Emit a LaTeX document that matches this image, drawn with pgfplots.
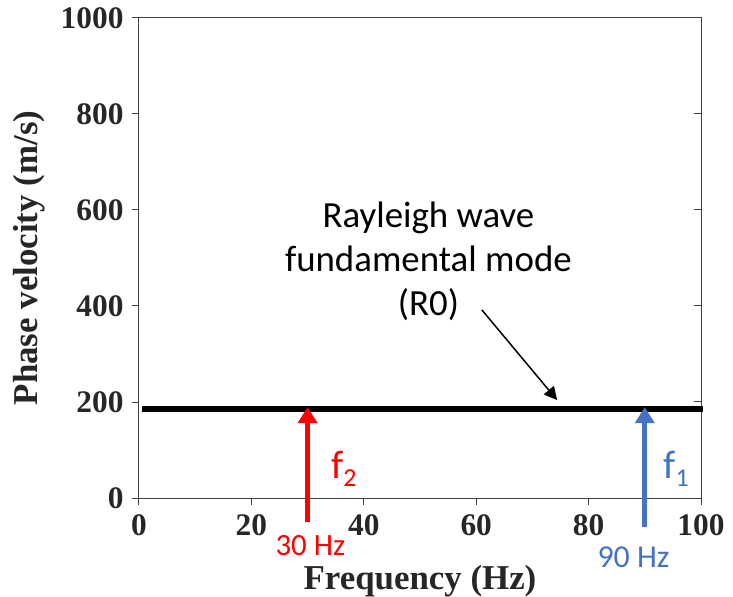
\documentclass[border=0pt]{standalone}
\usepackage{fontspec}
\setmainfont{Liberation Serif}
\newfontfamily\calib{Carlito}
\usepackage{pgfplots}
\pgfplotsset{compat=1.18}
\usetikzlibrary{arrows.meta}
\definecolor{tickgray}{HTML}{262626}
\definecolor{axgray}{HTML}{404040}
\definecolor{myblue}{HTML}{4472C4}
\begin{document}
\begin{tikzpicture}
\path[use as bounding box] (-139bp,-99bp) rectangle (594bp,498bp);
\begin{axis}[
  scale only axis, width=562bp, height=480bp,
  xmin=0, xmax=100, ymin=0, ymax=1000,
  xtick={0,20,...,100}, ytick={0,200,...,1000},
  xtick pos=bottom, ytick pos=left,
  tick align=outside, major tick length=7bp,
  axis line style={axgray, line width=1bp},
  every tick/.style={axgray, line width=1bp},
  /pgf/number format/assume math mode=true,
  /pgf/number format/1000 sep={},
  tick label style={font=\fontsize{31.5}{32}\selectfont\bfseries, text=tickgray},
  yticklabel style={xshift=-5bp},
  xticklabel style={yshift=-6bp},
  xlabel={\fontsize{35}{36}\selectfont\bfseries Frequency (Hz)},
  ylabel={\fontsize{35}{36}\selectfont\bfseries Phase velocity (m/s)},
  xlabel style={at={(axis description cs:0.5,0)}, anchor=center, yshift=-83bp, text=tickgray},
  ylabel style={at={(axis description cs:0,0.5)}, anchor=center, yshift=110bp, text=tickgray},
  clip=false,
]
\addplot[black, line width=6bp] coordinates {(0.5,185) (100.3,185)};
\addplot[red, line width=5bp, -{Triangle[width=19bp,length=16bp]}, shorten >=-3bp] coordinates {(30,-50) (30,183)};
\addplot[myblue, line width=5bp, -{Triangle[width=19bp,length=16bp]}, shorten >=-3bp] coordinates {(90,-60) (90,183)};
\addplot[black, line width=1.5bp, -{Triangle[width=13bp,length=13bp]}] coordinates {(61,392) (74.4,204)};
\node[font=\calib\fontsize{40}{40}\selectfont, text=red] at (axis cs:36.5,60) {f\textsubscript{\fontsize{26}{26}\selectfont 2}};
\node[font=\calib\fontsize{40}{40}\selectfont, text=myblue] at (axis cs:95.6,60) {f\textsubscript{\fontsize{26}{26}\selectfont 1}};
\node[font=\calib\fontsize{31}{33}\selectfont, text=red] at (axis cs:30.5,-100) {30 Hz};
\node[font=\calib\fontsize{32}{34}\selectfont, text=myblue] at (axis cs:88,-123) {90 Hz};
\node[font=\calib\fontsize{37}{44}\selectfont, align=center] at (axis cs:51.5,493) {Rayleigh wave\\fundamental mode\\(R0)};
\end{axis}
\begin{axis}[
  scale only axis, width=562bp, height=480bp,
  xmin=0, xmax=100, ymin=0, ymax=1000,
  ytick={0,200,...,1000}, xtick=\empty,
  ytick pos=right, yticklabels={}, tick align=inside, major tick length=7bp,
  axis line style={draw=none},
  every tick/.style={axgray, line width=1bp},
]
\end{axis}
\end{tikzpicture}
\end{document}
